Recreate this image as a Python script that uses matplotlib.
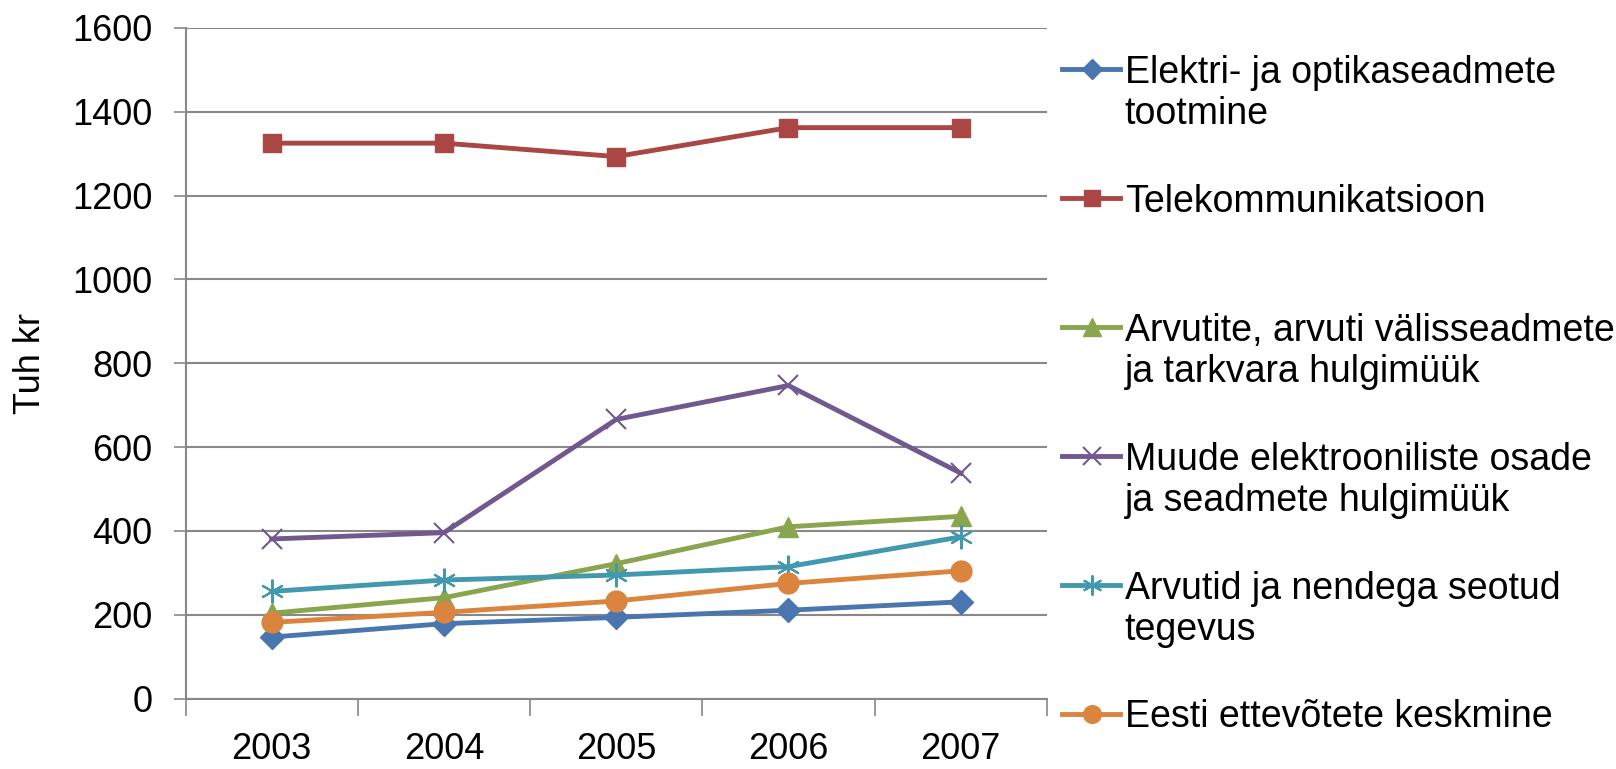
import matplotlib.pyplot as plt
from matplotlib.lines import Line2D
import numpy as np

plt.rcParams['font.family'] = ['Liberation Sans', 'DejaVu Sans']

years = ["2003", "2004", "2005", "2006", "2007"]

elektri = [147, 179, 194, 211, 231]
telekom = [1325, 1325, 1293, 1362, 1362]
arvutite = [204, 241, 322, 410, 435]
muude = [381, 396, 666, 747, 538]
arvutid = [256, 283, 295, 315, 386]
keskmine = [182, 206, 233, 275, 305]

labels = [
    "Elektri- ja optikaseadmete\ntootmine",
    "Telekommunikatsioon",
    "Arvutite, arvuti välisseadmete\nja tarkvara hulgimüük",
    "Muude elektrooniliste osade\nja seadmete hulgimüük",
    "Arvutid ja nendega seotud\ntegevus",
    "Eesti ettevõtete keskmine",
]

# (values, colour, marker, markersize, marker edge width)
series = [
    (elektri, "#4a76b0", "D", 12, 1),
    (telekom, "#aa4643", "s", 13, 1),
    (arvutite, "#89a54e", "^", 15, 1),
    (muude, "#71588f", "x", 15, 1.5),
    (arvutid, "#4198af", (6, 2, 0), 17, 1.5),
    (keskmine, "#db843d", "o", 15, 1),
]

FS = 26

fig = plt.figure(figsize=(16.16, 7.69), dpi=100)
ax = fig.add_axes([0.1148, 0.0914, 0.533, 0.8724])

x = np.arange(len(years))
for vals, col, mk, ms, mew in series:
    ax.plot(x, vals, color=col, linewidth=3.5, marker=mk, markersize=ms,
            markeredgewidth=mew, markeredgecolor=col, markerfacecolor=col)

ax.set_xlim(-0.5, len(years) - 0.5)
ax.set_ylim(0, 1600)
ax.set_yticks(range(0, 1601, 200))
ax.tick_params(axis='y', labelsize=FS, length=8.6, pad=15, color='#888888', width=1.2)
ax.set_xticks(x)
ax.set_xticklabels(years)
ax.set_xticks(np.arange(-0.5, len(years)), minor=True)
ax.tick_params(axis='x', which='major', length=0, labelsize=FS, pad=24)
ax.tick_params(axis='x', which='minor', length=12, color='#888888', width=1.2)

ax.grid(axis='y', color='#888888', linewidth=1.5)
ax.set_axisbelow(True)
for side in ['top', 'right']:
    ax.spines[side].set_visible(False)
for side in ['left', 'bottom']:
    ax.spines[side].set_color('#888888')
    ax.spines[side].set_linewidth(1.5)

ax.set_ylabel("Tuh kr", fontsize=FS)
ax.yaxis.set_label_coords(-0.16, 0.5)

# legend drawn by hand so the marker sits on the first text line
y0, dy = 0.910, 0.1677
cap_half = 0.0175
line_gap = 0.0533
for i, ((vals, col, mk, ms, mew), lab) in enumerate(zip(series, labels)):
    yy = y0 - i * dy
    fig.add_artist(Line2D([0.657, 0.693], [yy, yy], color=col, linewidth=3.5))
    fig.add_artist(Line2D([0.6755], [yy], color=col, marker=mk, markersize=ms * 0.85,
                          markeredgewidth=mew, markeredgecolor=col, markerfacecolor=col))
    for k, line in enumerate(lab.split("\n")):
        fig.text(0.696, yy - cap_half - k * line_gap, line, fontsize=FS + 1,
                 va='baseline', ha='left')

fig.savefig("out.png", dpi=100)
